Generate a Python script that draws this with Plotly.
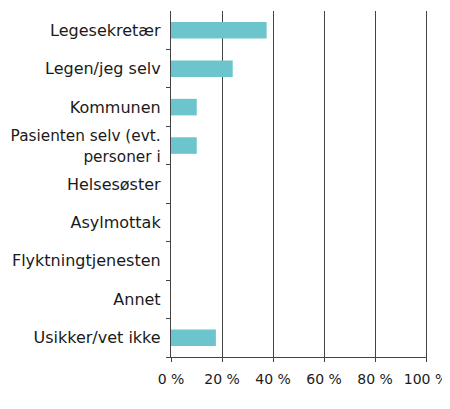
import plotly.graph_objects as go

categories = [
    "Legesekretær",
    "Legen/jeg selv",
    "Kommunen",
    "Pasienten selv (evt. personer i",
    "Helsesøster",
    "Asylmottak",
    "Flyktningtjenesten",
    "Annet",
    "Usikker/vet ikke",
]
cat_labels = [
    "Legesekretær",
    "Legen/jeg selv",
    "Kommunen",
    '<span style="font-size:15.3px">Pasienten selv (evt.<br>personer i</span>',
    "Helsesøster",
    "Asylmottak",
    "Flyktningtjenesten",
    "Annet",
    "Usikker/vet ikke",
]
values = [37.5, 24.2, 10.1, 10.1, 0, 0, 0, 0, 17.6]
x_ticks = [0, 20, 40, 60, 80, 100]
x_labels = ["0 %", "20 %", "40 %", "60 %", "80 %", "100 %"]

fig = go.Figure(go.Bar(
    x=values,
    y=categories,
    orientation="h",
    width=0.43,
    marker=dict(color="#6cc5cc", line=dict(width=0)),
))

# page body has an 8px default margin, so the figure is made a bit smaller
fig.update_layout(
    width=442,
    height=401,
    margin=dict(l=163, r=24, t=3, b=52),
    plot_bgcolor="white",
    paper_bgcolor="white",
    font=dict(family="DejaVu Sans", size=16, color="#1a1a1a"),
    showlegend=False,
)
fig.update_xaxes(
    range=[0, 100],
    tickvals=x_ticks,
    ticktext=x_labels,
    tickfont=dict(size=14),
    showgrid=True,
    gridcolor="#444444",
    gridwidth=1.3,
    showline=True,
    linecolor="#444444",
    linewidth=1.3,
    ticks="outside",
    ticklen=4,
    tickcolor="#444444",
    ticklabelstandoff=5,
    ticklabeloverflow="allow",
    zeroline=False,
    automargin=False,
)
fig.update_yaxes(
    categoryorder="array",
    categoryarray=categories[::-1],
    tickvals=categories,
    ticktext=cat_labels,
    autorange=False,
    range=[-0.5, len(categories) - 0.5],
    showline=True,
    mirror=True,
    linecolor="#444444",
    linewidth=1.3,
    ticks="outside",
    tickson="boundaries",
    ticklen=4,
    tickcolor="#444444",
    ticklabelstandoff=6,
    showgrid=False,
    automargin=False,
)

fig.write_html("out.html")
